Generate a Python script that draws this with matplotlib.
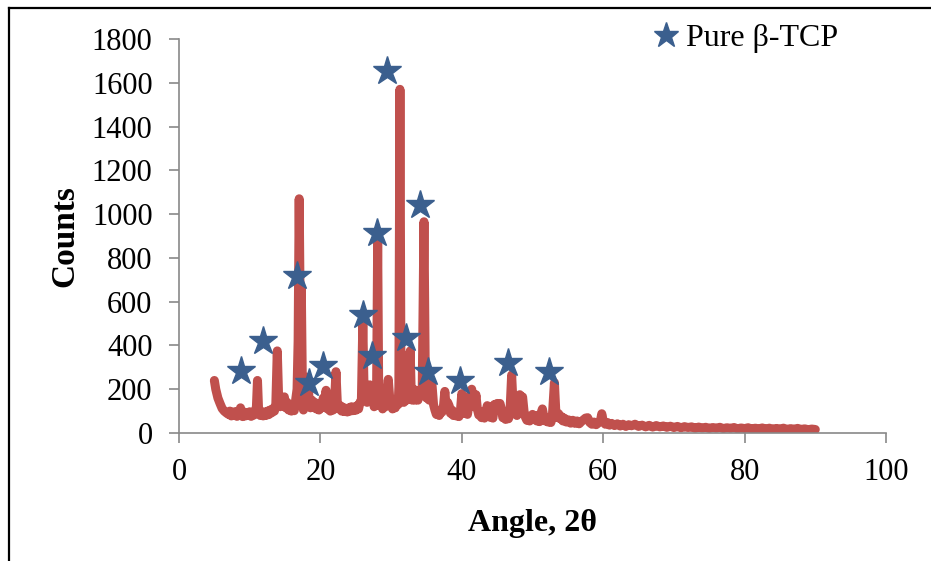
import matplotlib
matplotlib.use("Agg")
import matplotlib.pyplot as plt
from matplotlib.lines import Line2D

plt.rcParams['font.family'] = ['Liberation Serif', 'DejaVu Serif']

# XRD trace (angle 2θ, counts)
angle = [5.0, 5.2, 5.5, 5.8, 6.1, 6.4, 6.7, 7.0, 7.2, 7.4, 7.6, 7.8, 8.0, 8.2, 8.4, 8.6, 8.7, 8.8,
         9.0, 9.2, 9.4, 9.6, 9.8, 10.0, 10.2, 10.4, 10.6, 10.8, 10.95, 11.1, 11.25, 11.5, 11.7, 11.9,
         12.1, 12.3, 12.5, 12.7, 12.9, 13.1, 13.3, 13.5, 13.7, 13.9, 14.1, 14.3, 14.5, 14.7, 14.9,
         15.1, 15.3, 15.5, 15.7, 15.9, 16.1, 16.3, 16.5, 16.7, 16.85, 17.0, 17.15, 17.3, 17.45, 17.6,
         17.8, 18.0, 18.2, 18.4, 18.6, 18.8, 19.0, 19.2, 19.4, 19.6, 19.8, 20.0, 20.2, 20.4, 20.6,
         20.8, 21.0, 21.2, 21.4, 21.6, 21.8, 22.0, 22.2, 22.4, 22.6, 22.8, 23.0, 23.2, 23.4, 23.6,
         23.8, 24.0, 24.2, 24.4, 24.6, 24.8, 25.0, 25.2, 25.4, 25.6, 25.8, 26.0, 26.2, 26.4, 26.6,
         26.8, 27.0, 27.2, 27.4, 27.6, 27.8, 27.95, 28.1, 28.25, 28.4, 28.6, 28.8, 29.0, 29.2, 29.4,
         29.6, 29.8, 30.0, 30.2, 30.4, 30.6, 30.8, 31.0, 31.1, 31.25, 31.4, 31.6, 31.8, 32.0, 32.2,
         32.4, 32.55, 32.7, 32.85, 33.0, 33.2, 33.4, 33.6, 33.8, 34.0, 34.2, 34.4, 34.65, 34.85, 35.0,
         35.2, 35.4, 35.6, 35.8, 36.0, 36.2, 36.4, 36.6, 36.8, 37.0, 37.2, 37.4, 37.6, 37.8, 38.0,
         38.2, 38.4, 38.6, 38.8, 39.0, 39.2, 39.4, 39.6, 39.8, 40.0, 40.2, 40.4, 40.6, 40.8, 41.0,
         41.2, 41.4, 41.6, 41.8, 42.0, 42.2, 42.4, 42.6, 42.8, 43.0, 43.2, 43.4, 43.6, 43.8, 44.0,
         44.2, 44.4, 44.6, 44.8, 45.0, 45.2, 45.4, 45.6, 45.8, 46.0, 46.2, 46.4, 46.6, 46.8, 47.05,
         47.25, 47.4, 47.6, 47.8, 48.0, 48.2, 48.4, 48.6, 48.8, 49.0, 49.2, 49.4, 49.6, 49.8, 50.0,
         50.2, 50.4, 50.6, 50.8, 51.0, 51.2, 51.4, 51.6, 51.8, 52.0, 52.2, 52.4, 52.6, 52.8, 53.1,
         53.3, 53.5, 53.7, 53.9, 54.1, 54.3, 54.5, 54.8, 55.1, 55.4, 55.7, 56.0, 56.3, 56.6, 56.9,
         57.2, 57.5, 57.8, 58.1, 58.4, 58.7, 59.0, 59.3, 59.6, 59.8, 60.0, 60.3, 60.6, 60.9, 61.2,
         61.6, 62.0, 62.4, 62.8, 63.2, 63.6, 64.0, 64.5, 65.0, 65.5, 66.0, 66.5, 67.0, 67.5, 68.0,
         68.5, 69.0, 69.5, 70.0, 70.5, 71.0, 71.5, 72.0, 72.5, 73.0, 73.5, 74.0, 74.5, 75.0, 75.5,
         76.0, 76.5, 77.0, 77.5, 78.0, 78.5, 79.0, 79.5, 80.0, 80.5, 81.0, 81.5, 82.0, 82.5, 83.0,
         83.5, 84.0, 84.5, 85.0, 85.5, 86.0, 86.5, 87.0, 87.5, 88.0, 88.5, 89.0, 89.5, 90.0]
counts = [240, 200, 160, 135, 112, 100, 92, 85, 100, 78, 95, 80, 98, 76, 92, 100, 115, 90,
          75, 96, 78, 92, 80, 97, 76, 94, 82, 100, 120, 240, 110, 80, 98, 78,
          95, 80, 100, 84, 105, 92, 112, 100, 135, 375, 150, 120, 160, 130, 165,
          115, 140, 105, 125, 100, 118, 102, 150, 200, 420, 1070, 520, 660, 210, 105,
          150, 130, 255, 150, 115, 150, 125, 140, 110, 128, 105, 135, 115, 160, 120,
          195, 110, 125, 100, 115, 105, 140, 280, 130, 110, 125, 100, 118, 98, 112,
          96, 115, 100, 120, 102, 118, 104, 125, 110, 140, 150, 500, 150, 185, 140,
          200, 220, 175, 210, 120, 160, 200, 865, 170, 125, 145, 110, 140, 120, 190,
          245, 160, 130, 110, 140, 115, 150, 130, 210, 1570, 170, 200, 140, 175, 150,
          190, 260, 375, 175, 150, 200, 150, 175, 150, 195, 170, 185, 965, 200, 160,
          185, 150, 240, 215, 130, 105, 85, 100, 80, 105, 95, 120, 190, 115, 140,
          125, 90, 105, 80, 95, 78, 92, 75, 98, 180, 115, 90, 108, 85, 130,
          170, 200, 150, 120, 175, 110, 82, 98, 70, 88, 68, 92, 125, 90, 72,
          88, 68, 130, 120, 135, 118, 135, 110, 70, 82, 62, 78, 65, 85, 265,
          130, 105, 95, 80, 150, 175, 140, 165, 100, 72, 58, 70, 55, 75, 85,
          65, 80, 55, 68, 52, 90, 110, 75, 55, 68, 50, 62, 48, 72, 230,
          95, 72, 88, 65, 75, 55, 68, 50, 60, 45, 58, 44, 55, 42, 52,
          60, 68, 70, 48, 40, 50, 38, 46, 55, 88, 55, 40, 48, 36, 44,
          34, 42, 32, 40, 30, 38, 33, 40, 30, 36, 28, 35, 27, 34, 28,
          32, 26, 31, 25, 30, 24, 29, 25, 28, 22, 27, 23, 26, 21, 25,
          22, 26, 20, 24, 21, 25, 19, 23, 20, 24, 18, 22, 19, 23, 18,
          22, 17, 21, 18, 22, 16, 20, 17, 21, 16, 19, 15, 18, 16]

# Star markers (Pure β-TCP peaks)
star_angle = [8.8, 11.85, 16.7, 18.45, 20.4, 26.05, 27.3, 28.05, 29.45, 32.1, 34.1, 35.25, 39.75, 46.6, 52.4]
star_counts = [283, 420, 717, 227, 308, 537, 350, 912, 1652, 432, 1041, 280, 236, 320, 277]

xticks = [0, 20, 40, 60, 80, 100]
yticks = [0, 200, 400, 600, 800, 1000, 1200, 1400, 1600, 1800]

RED = '#C0504D'
BLUE = '#3B5F8E'
GRAY = '#898989'

fig = plt.figure(figsize=(9.31, 5.61), dpi=100)
ax = fig.add_axes([179/931, 1 - 433/561, (886 - 179)/931, (433 - 39)/561])

ax.plot(angle, counts, color=RED, lw=6.5, solid_capstyle='round', solid_joinstyle='round', zorder=2)
ax.plot(star_angle, star_counts, linestyle='none', marker='*', markersize=21,
        color=BLUE, markeredgecolor=BLUE, zorder=3, label='Pure β-TCP')

ax.set_xlim(0, 100)
ax.set_ylim(0, 1800)
ax.set_xticks(xticks)
ax.set_yticks(yticks)
ax.set_xticklabels([str(v) for v in xticks])
ax.set_yticklabels([str(v) for v in yticks])

for s in ['top', 'right']:
    ax.spines[s].set_visible(False)
for s in ['left', 'bottom']:
    ax.spines[s].set_color(GRAY)
    ax.spines[s].set_linewidth(1.2)
ax.tick_params(axis='both', direction='out', length=7, width=1.2, color=GRAY,
               labelsize=22, labelcolor='black')
ax.tick_params(axis='y', pad=12)
ax.tick_params(axis='x', pad=11)

ax.set_xlabel('Angle, 2θ', fontsize=23, fontweight='bold', labelpad=16)
ax.set_ylabel('Counts', fontsize=24, fontweight='bold', labelpad=8)

leg = ax.legend(loc='upper left', bbox_to_anchor=(652/931, 1 - 24/561), bbox_transform=fig.transFigure,
                frameon=False, fontsize=23, handlelength=0.9, handletextpad=0.15, markerscale=0.9,
                borderpad=0, borderaxespad=0)

# figure border lines (top and left)
fig.add_artist(Line2D([9/931, 1], [1 - 8/561, 1 - 8/561], color='black', lw=1.6, transform=fig.transFigure))
fig.add_artist(Line2D([9/931, 9/931], [0, 1 - 8/561], color='black', lw=1.6, transform=fig.transFigure))

fig.savefig('out.png', dpi=100)
